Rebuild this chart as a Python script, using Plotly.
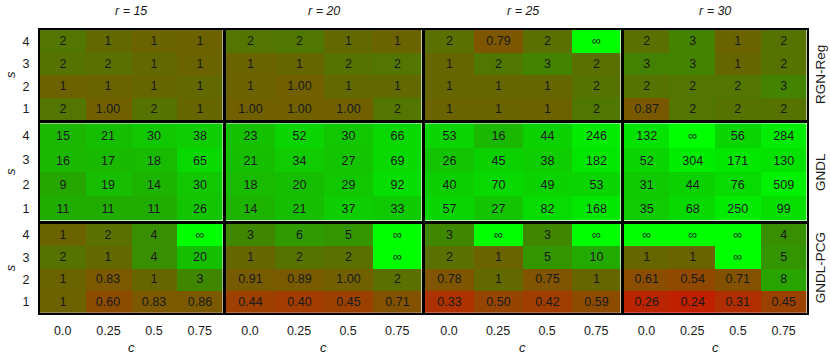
import math
import plotly.graph_objects as go

INF = float("inf")

c_labels = ["0.0", "0.25", "0.5", "0.75"]
s_values = [1, 2, 3, 4]
r_values = [15, 20, 25, 30]
methods = ["RGN-Reg", "GNDL", "GNDL-PCG"]

# values[method][r] = rows for s = 1..4, columns c = 0.0..0.75 (estimated underlying values)
rgn_reg = {
    15: [[1.7, 0.998, 1.6, 1.2], [1.05, 1.1, 1.2, 1.3], [1.6, 1.5, 1.3, 1.1], [1.7, 1.3, 1.1, 1.05]],
    20: [[0.997, 0.996, 0.997, 1.7], [1.05, 0.998, 1.3, 1.3], [1.1, 1.2, 1.6, 1.7], [1.7, 1.8, 1.3, 1.1]],
    25: [[1.1, 1.1, 1.05, 1.8], [1.2, 1.2, 1.2, 1.6], [1.2, 1.8, 2.6, 1.5], [1.5, 0.79, 1.5, INF]],
    30: [[0.87, 1.7, 1.6, 1.6], [1.6, 1.7, 1.7, 2.6], [2.5, 2.6, 1.2, 1.6], [1.5, 2.6, 1.1, 1.6]],
}
gndl = {
    15: [[11, 11, 11, 26], [9, 19, 14, 30], [16, 17, 18, 65], [15, 21, 30, 38]],
    20: [[14, 21, 37, 33], [18, 20, 29, 92], [21, 34, 27, 69], [23, 52, 30, 66]],
    25: [[57, 27, 82, 168], [40, 70, 49, 53], [26, 45, 38, 182], [53, 16, 44, 246]],
    30: [[35, 68, 250, 99], [31, 44, 76, 509], [52, 304, 171, 130], [132, INF, 56, 284]],
}
gndl_pcg = {
    15: [[1.05, 0.60, 0.83, 0.86], [1.1, 0.83, 1.2, 3], [1.6, 1.3, 4, 20], [1.1, 1.5, 4, INF]],
    20: [[0.44, 0.40, 0.45, 0.71], [0.91, 0.89, 0.997, 1.5], [1.2, 1.6, 1.5, INF], [3, 6, 5, INF]],
    25: [[0.33, 0.50, 0.42, 0.59], [0.78, 1.3, 0.75, 1.2], [1.5, 1.1, 5, 10], [3, INF, 3, INF]],
    30: [[0.26, 0.24, 0.31, 0.45], [0.61, 0.54, 0.71, 8], [1.2, 1.1, INF, 5], [INF, INF, INF, 4]],
}
data = {"RGN-Reg": rgn_reg, "GNDL": gndl, "GNDL-PCG": gndl_pcg}

ZMIN, ZMAX = -0.65, 3.2
stops = [
    (-0.65, (195, 28, 0)),
    (-0.4, (162, 60, 0)),
    (-0.2, (137, 78, 0)),
    (-0.05, (120, 90, 0)),
    (0.0, (112, 96, 0)),
    (0.1, (100, 104, 0)),
    (0.25, (80, 120, 0)),
    (0.5, (62, 136, 0)),
    (0.8, (45, 156, 0)),
    (1.0, (35, 170, 0)),
    (1.3, (22, 190, 0)),
    (1.7, (10, 212, 0)),
    (2.2, (3, 230, 0)),
    (2.7, (0, 242, 0)),
    (3.2, (0, 255, 0)),
]
colorscale = [[(v - ZMIN) / (ZMAX - ZMIN), "rgb(%d,%d,%d)" % c] for v, c in stops]


def label(v):
    if v == INF:
        return "∞"
    if v < 1:
        return "%.2f" % v
    return str(int(math.floor(v + 0.5)))


def zval(v):
    if v == INF:
        return ZMAX
    return max(ZMIN, min(ZMAX, math.log10(v)))


W, H = 830, 360
xdom_px = [(40, 222.5), (225.5, 421.7), (424.5, 620.7), (623.7, 806.5)]
ydom_px = [(30, 120), (123.3, 220.7), (224, 312.7)]

FONT = "Liberation Sans, Arial, sans-serif"
TXT = "#1a1a1a"
fig = go.Figure()
layout = {}
annotations = []
k = 0
for i, m in enumerate(methods):
    for j, r in enumerate(r_values):
        k += 1
        vals = data[m][r]
        z = [[zval(v) for v in row] for row in vals]
        txt = [[label(v) for v in row] for row in vals]
        xa = "x" if k == 1 else "x%d" % k
        ya = "y" if k == 1 else "y%d" % k
        fig.add_trace(go.Heatmap(
            x=c_labels, y=s_values, z=z, text=txt, texttemplate="%{text}",
            textfont=dict(family=FONT, size=12.5, color=TXT),
            colorscale=colorscale, zmin=ZMIN, zmax=ZMAX, showscale=False,
            xaxis=xa, yaxis=ya, hoverinfo="skip", xgap=0, ygap=0,
        ))
        x0, x1 = xdom_px[j]
        y0, y1 = ydom_px[i]
        axx = dict(domain=[x0 / W, x1 / W], anchor=ya, type="category",
                   showgrid=False, zeroline=False, showline=True, mirror=True,
                   linecolor="black", linewidth=2, ticks="", automargin=False,
                   showticklabels=(i == 2),
                   tickfont=dict(family=FONT, size=12.5, color=TXT),
                   ticklabelstandoff=5)
        axy = dict(domain=[1 - y1 / H, 1 - y0 / H], anchor=xa,
                   showgrid=False, zeroline=False, showline=True, mirror=True,
                   linecolor="black", linewidth=2, ticks="", automargin=False,
                   tickvals=s_values, range=[0.5, 4.5],
                   showticklabels=(j == 0),
                   tickfont=dict(family=FONT, size=12.5, color=TXT),
                   ticklabelstandoff=6)
        layout["xaxis" if k == 1 else "xaxis%d" % k] = axx
        layout["yaxis" if k == 1 else "yaxis%d" % k] = axy

for j, r in enumerate(r_values):
    cx = (xdom_px[j][0] + xdom_px[j][1]) / 2 / W
    annotations.append(dict(x=cx, y=1 - 11 / H, xref="paper", yref="paper",
                            xanchor="center", yanchor="middle",
                            text="<i>r = %d</i>" % r, showarrow=False,
                            font=dict(family=FONT, size=12.5, color=TXT)))
    annotations.append(dict(x=cx, y=1 - 347 / H, xref="paper", yref="paper",
                            xanchor="center", yanchor="middle",
                            text="<i>c</i>", showarrow=False,
                            font=dict(family=FONT, size=13, color=TXT)))
for i, m in enumerate(methods):
    cy = 1 - (ydom_px[i][0] + ydom_px[i][1]) / 2 / H
    annotations.append(dict(x=820 / W, y=cy, xref="paper", yref="paper",
                            xanchor="center", yanchor="middle",
                            text=m, textangle=-90, showarrow=False,
                            font=dict(family=FONT, size=13.5, color=TXT)))
    annotations.append(dict(x=10 / W, y=cy, xref="paper", yref="paper",
                            xanchor="center", yanchor="middle",
                            text="<i>s</i>", textangle=-90, showarrow=False,
                            font=dict(family=FONT, size=13, color=TXT)))

fig.update_layout(width=W, height=H, margin=dict(l=0, r=0, t=0, b=0, autoexpand=False),
                  paper_bgcolor="white", plot_bgcolor="white",
                  annotations=annotations, **layout)
fig.write_html("out.html", config={"displayModeBar": False},
               post_script="document.body.style.margin='0';document.body.style.padding='0';")
